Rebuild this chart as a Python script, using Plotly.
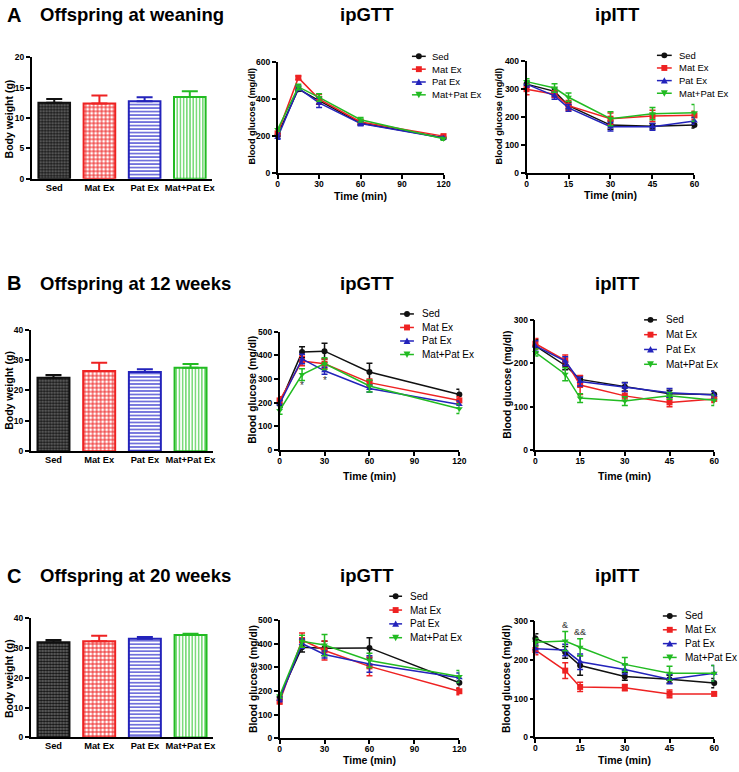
import plotly.graph_objects as go

W, H = 739, 772
FONT = "Liberation Sans, Arial, Helvetica, sans-serif"

groups = ["Sed", "Mat Ex", "Pat Ex", "Mat+Pat Ex"]
colors = ["#111111", "#ee2222", "#2323bb", "#22bb22"]
symbols = ["circle", "square", "triangle-up", "triangle-down"]

# ---- Body weight (g): mean and SEM, in group order ----
bw_weaning = [12.5, 12.4, 12.75, 13.45]
bw_weaning_sem = [0.65, 1.3, 0.65, 0.95]
bw_12wk = [24.2, 26.4, 26.1, 27.5]
bw_12wk_sem = [0.9, 2.7, 0.9, 1.2]
bw_20wk = [31.9, 32.2, 33.0, 34.3]
bw_20wk_sem = [0.7, 1.8, 0.6, 0.4]

# ---- time points (min) ----
gtt_time = [0, 15, 30, 60, 120]
itt_time = [0, 10, 15, 30, 45, 60]

# ---- ipGTT blood glucose (mg/dl), rows = Sed, Mat Ex, Pat Ex, Mat+Pat Ex ----
gtt_wean = [[205, 454, 392, 270, 190],
            [214, 516, 400, 276, 199],
            [192, 459, 379, 267, 189],
            [235, 466, 409, 288, 185]]
gtt_wean_sem = [[10, 12, 20, 12, 8],
                [10, 10, 25, 12, 8],
                [10, 12, 25, 12, 8],
                [10, 15, 20, 12, 8]]
gtt_12wk = [[195, 414, 418, 330, 235],
            [210, 376, 365, 285, 210],
            [195, 385, 335, 260, 193],
            [167, 319, 365, 271, 175]]
gtt_12wk_sem = [[15, 22, 33, 37, 22],
                [15, 20, 20, 15, 15],
                [15, 20, 15, 15, 15],
                [15, 25, 25, 25, 20]]
gtt_20wk = [[175, 385, 380, 382, 235],
            [155, 415, 371, 304, 199],
            [165, 400, 354, 314, 256],
            [180, 410, 394, 329, 261]]
gtt_20wk_sem = [[10, 20, 30, 43, 25],
                [10, 30, 40, 40, 15],
                [10, 20, 15, 35, 20],
                [10, 25, 45, 30, 25]]

# ---- ipITT blood glucose (mg/dl) ----
itt_wean = [[318, 292, 241, 171, 167, 171],
            [300, 282, 241, 194, 204, 206],
            [318, 276, 233, 165, 165, 186],
            [327, 304, 271, 194, 212, 215]]
itt_wean_sem = [[10, 12, 12, 15, 10, 10],
                [20, 12, 18, 20, 20, 15],
                [10, 12, 12, 15, 12, 12],
                [10, 15, 15, 25, 22, 30]]
itt_12wk = [[240, 195, 163, 146, 130, 128],
            [245, 207, 150, 125, 110, 118],
            [240, 205, 158, 145, 132, 127],
            [225, 175, 120, 113, 125, 115]]
itt_12wk_sem = [[15, 10, 8, 10, 8, 8],
                [12, 12, 22, 10, 10, 8],
                [12, 10, 10, 10, 10, 8],
                [8, 15, 10, 10, 8, 12]]
itt_20wk = [[255, 219, 185, 157, 150, 140],
            [225, 172, 130, 128, 112, 112],
            [228, 225, 195, 175, 150, 165],
            [245, 248, 232, 188, 165, 165]]
itt_20wk_sem = [[12, 15, 25, 10, 10, 12],
                [12, 20, 12, 8, 10, 5],
                [10, 15, 20, 12, 12, 20],
                [10, 25, 22, 18, 18, 20]]

# ---- significance marks (time, glucose, text) ----
gtt_12wk_marks_x = [15, 30]
gtt_12wk_marks_y = [272, 293]
gtt_12wk_marks_t = ["*", "*"]
itt_20wk_marks_x = [10, 15]
itt_20wk_marks_y = [290, 272]
itt_20wk_marks_t = ["&", "&&"]

row_titles = ["Offspring at weaning", "Offspring at 12 weeks", "Offspring at 20 weeks"]
row_letters = ["A", "B", "C"]

# ---------------------------------------------------------------------------
fig = go.Figure()
annotations = []
shapes = []


def px2x(v):
    return v / W


def px2y(v):
    return 1 - v / H


def txt(x, y, s, size, bold=True, xanchor="center", angle=0):
    annotations.append(dict(
        x=px2x(x), y=px2y(y), xref="paper", yref="paper", text=s,
        showarrow=False, textangle=angle, xanchor=xanchor, yanchor="middle",
        font=dict(family=FONT, size=size, color="black",
                  weight="bold" if bold else "normal")))


def axis_base():
    return dict(showline=True, linecolor="black", linewidth=1.5,
                ticks="outside", ticklen=4, tickwidth=1.5, tickcolor="black",
                tickfont=dict(family=FONT, size=8.5, color="black", weight="bold"),
                showgrid=False, zeroline=False, fixedrange=True)


layout_axes = {}

# panel layout in pixels: (x0, x1, ytop, ybottom)
panel_px = {
    1: (30, 213, 53, 176), 2: (279, 447, 58, 170), 3: (531, 701, 57, 170),
    4: (29, 214, 329, 452), 5: (281, 463, 331, 451), 6: (540, 721, 319, 451),
    7: (29, 214, 621, 742), 8: (281, 463, 623, 743), 9: (540, 721, 624, 742),
}


def set_axes(i, xcfg, ycfg):
    x0, x1, yt, yb = panel_px[i]
    xa = axis_base()
    xa.update(domain=[px2x(x0), px2x(x1)], anchor="y" if i == 1 else f"y{i}",
              ticklabelstandoff=-2)
    xa.update(xcfg)
    ya = axis_base()
    ya.update(domain=[px2y(yb), px2y(yt)], anchor="x" if i == 1 else f"x{i}")
    ya.update(ycfg)
    layout_axes["xaxis" if i == 1 else f"xaxis{i}"] = xa
    layout_axes["yaxis" if i == 1 else f"yaxis{i}"] = ya


def ref(i):
    return ("x", "y") if i == 1 else (f"x{i}", f"y{i}")


pattern_shape = [".", "+", "-", "|"]
pattern_fg = ["#111111", "#ee2222", "#3333cc", "#44cc44"]
pattern_bg = ["#707070", "#ffffff", "#ffffff", "#ffffff"]
pattern_size = [3, 4, 3.5, 3.2]
pattern_sol = [0.55, 0.45, 0.35, 0.35]


def bar_panel(i, vals, sems, ymax, dtick):
    xr, yr = ref(i)
    for g in range(4):
        fig.add_trace(go.Bar(
            x=[groups[g]], y=[vals[g]], width=0.7, xaxis=xr, yaxis=yr,
            showlegend=False,
            marker=dict(color="white",
                        line=dict(color=colors[g], width=2),
                        pattern=dict(shape=pattern_shape[g], fgcolor=pattern_fg[g],
                                     bgcolor=pattern_bg[g], size=pattern_size[g],
                                     solidity=pattern_sol[g], fillmode="replace")),
            error_y=dict(type="data", symmetric=False, array=[sems[g]],
                         arrayminus=[0], color=colors[g], thickness=2, width=8)))
    set_axes(i,
             dict(type="category", categoryorder="array", categoryarray=groups,
                  range=[-0.5, 3.5], ticks="", ticklabelstandoff=-1,
                  tickfont=dict(family=FONT, size=9.3, color="black", weight="bold")),
             dict(range=[0, ymax], dtick=dtick))


def line_panel(i, times, means, sems, xmax, xdtick, ymax, ydtick):
    xr, yr = ref(i)
    for g in range(4):
        fig.add_trace(go.Scatter(
            x=times, y=means[g], mode="lines+markers", xaxis=xr, yaxis=yr,
            showlegend=False, cliponaxis=False,
            line=dict(color=colors[g], width=1.5),
            marker=dict(symbol=symbols[g], size=6, color=colors[g]),
            error_y=dict(type="data", array=sems[g], color=colors[g],
                         thickness=1.5, width=3)))
    set_axes(i, dict(range=[0, xmax], dtick=xdtick),
             dict(range=[0, ymax], dtick=ydtick))


bar_panel(1, bw_weaning, bw_weaning_sem, 20, 5)
line_panel(2, gtt_time, gtt_wean, gtt_wean_sem, 120, 30, 600, 200)
line_panel(3, itt_time, itt_wean, itt_wean_sem, 60, 15, 400, 100)
bar_panel(4, bw_12wk, bw_12wk_sem, 40, 10)
line_panel(5, gtt_time, gtt_12wk, gtt_12wk_sem, 120, 30, 500, 100)
line_panel(6, itt_time, itt_12wk, itt_12wk_sem, 60, 15, 300, 100)
bar_panel(7, bw_20wk, bw_20wk_sem, 40, 10)
line_panel(8, gtt_time, gtt_20wk, gtt_20wk_sem, 120, 30, 500, 100)
line_panel(9, itt_time, itt_20wk, itt_20wk_sem, 60, 15, 300, 100)

# significance marks
for xv, yv, t in zip(gtt_12wk_marks_x, gtt_12wk_marks_y, gtt_12wk_marks_t):
    annotations.append(dict(x=xv, y=yv, xref="x5", yref="y5", text=t, showarrow=False,
                            font=dict(family=FONT, size=10, color="#333333")))
for xv, yv, t in zip(itt_20wk_marks_x, itt_20wk_marks_y, itt_20wk_marks_t):
    annotations.append(dict(x=xv, y=yv, xref="x9", yref="y9", text=t, showarrow=False,
                            font=dict(family=FONT, size=9, color="#333333")))

# ---- titles ----
title_y = [10, 282, 578]
for r in range(3):
    txt(3, title_y[r], row_letters[r], 20, xanchor="left")
    txt(36, title_y[r], row_titles[r], 18.5, xanchor="left")
    txt(370, title_y[r], "ipGTT", 18.5)
    txt(623, title_y[r], "ipITT", 18.5)

# ---- axis titles ----
ytitle = [(7, 115, "Body weight (g)", 10.5), (253, 113, "Blood glucose (mg/dl)", 9.2),
          (503, 113, "Blood glucose (mg/dl)", 9.2),
          (7, 390, "Body weight (g)", 10.5), (254, 390, "Blood glucose (mg/dl)", 10.3),
          (511, 385, "Blood glucose (mg/dl)", 10.3),
          (7, 682, "Body weight (g)", 10.5), (254, 683, "Blood glucose (mg/dl)", 10.3),
          (510, 683, "Blood glucose (mg/dl)", 10.3)]
for x, y, s, fs in ytitle:
    txt(x, y, s, fs, angle=-90)
xtitle = [(363, 193), (616, 192), (372, 477), (630, 477), (372, 765), (630, 765)]
for x, y in xtitle:
    txt(x, y, "Time (min)", 10.5)

# ---- legends (line segment + marker + label) ----
legend_px = [  # (line x0, line x1, text x, first y, step, font size)
    (415, 429, 433, 52, 13, 9.5),
    (663, 678, 683, 51, 12.8, 9.5),
    (403, 417, 423, 313, 13.7, 10),
    (650, 663, 670, 319, 15, 10),
    (392, 405, 411, 599, 14, 10),
    (669, 683, 689, 619, 14, 10),
]


def marker_shape(g, cx, cy, s=3):
    c = colors[g]
    if g == 0:
        return dict(type="circle", xref="paper", yref="paper", x0=px2x(cx - s), x1=px2x(cx + s),
                    y0=px2y(cy + s), y1=px2y(cy - s), fillcolor=c, line=dict(color=c, width=0))
    if g == 1:
        return dict(type="rect", xref="paper", yref="paper", x0=px2x(cx - s), x1=px2x(cx + s),
                    y0=px2y(cy + s), y1=px2y(cy - s), fillcolor=c, line=dict(color=c, width=0))
    if g == 2:
        pts = [(cx - s - 0.5, cy + s), (cx + s + 0.5, cy + s), (cx, cy - s - 0.5)]
    else:
        pts = [(cx - s - 0.5, cy - s), (cx + s + 0.5, cy - s), (cx, cy + s + 0.5)]
    path = "M " + " L ".join(f"{px2x(a):.5f},{px2y(b):.5f}" for a, b in pts) + " Z"
    return dict(type="path", xref="paper", yref="paper", path=path, fillcolor=c,
                line=dict(color=c, width=0))


for lx0, lx1, tx, y0, step, fs in legend_px:
    for g in range(4):
        y = y0 + g * step
        shapes.append(dict(type="line", xref="paper", yref="paper", x0=px2x(lx0), x1=px2x(lx1),
                           y0=px2y(y), y1=px2y(y), line=dict(color=colors[g], width=1.5)))
        shapes.append(marker_shape(g, (lx0 + lx1) / 2, y))
        txt(tx, y, groups[g], fs, bold=False, xanchor="left")

fig.update_layout(
    width=W, height=H, autosize=False, margin=dict(l=0, r=0, t=0, b=0),
    paper_bgcolor="white", plot_bgcolor="white", showlegend=False,
    barmode="overlay", annotations=annotations, shapes=shapes,
    font=dict(family=FONT, color="black"),
    **layout_axes)

fig.write_html("out.html", config={"displayModeBar": False},
               post_script="document.body.style.margin='0px';")
